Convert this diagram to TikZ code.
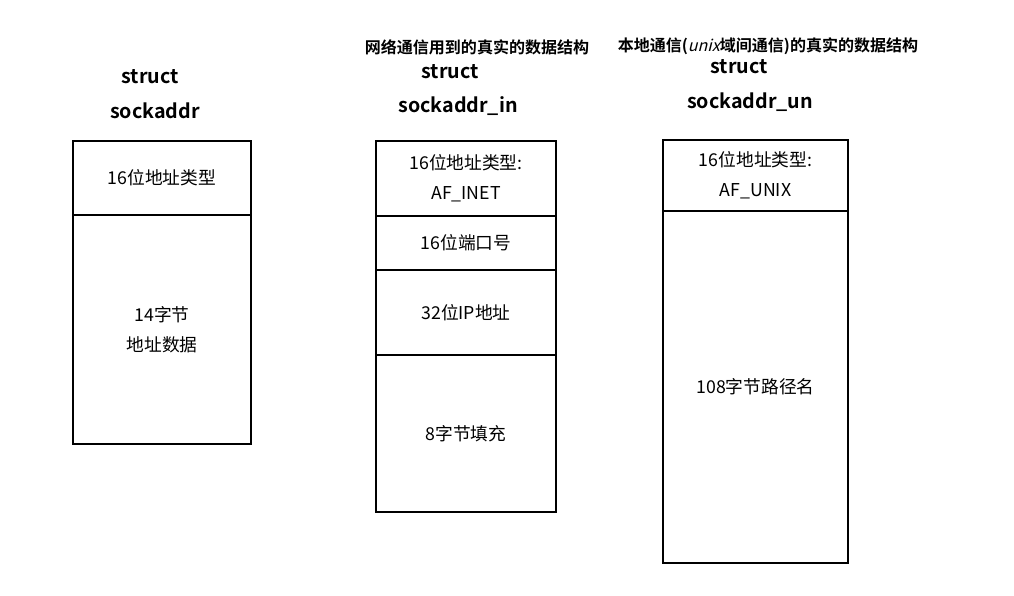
\documentclass[tikz,border=0pt]{standalone}
\usepackage{fontspec}
\setmainfont{Noto Sans CJK SC}[BoldFont={Noto Sans CJK SC Bold}, ItalicFont={Noto Sans CJK SC}, ItalicFeatures={FakeSlant=0.25}]
\usetikzlibrary{positioning}

\tikzset{
    cell/.style={draw, line width=1.3pt, outer sep=0pt, inner sep=0pt, font=\fontsize{12.6}{21.5}\selectfont, align=center},
    title/.style={font=\bfseries\fontsize{14}{16}\selectfont},
    note/.style={font=\bfseries\fontsize{11.4}{13}\selectfont}
}

\begin{document}
\begin{tikzpicture}[x=0.025cm, y=-0.025cm]
    \useasboundingbox (0, 0) rectangle (1014, 595);

    % struct sockaddr
    \node[title] (t1a) at (150, 77) {struct};
    \node[title] (t1b) at (155, 111) {sockaddr};
    \node[cell, anchor=north west, minimum width=4.45cm, minimum height=1.85cm] (a1) at (73, 141) {16位地址类型};
    \node[cell, below=0pt of a1, minimum width=4.45cm, minimum height=5.725cm] (a2) {14字节\\地址数据};

    % struct sockaddr_in
    \node[note] (n2) at (477, 47) {网络通信用到的真实的数据结构};
    \node[title] (t2a) at (450, 72) {struct};
    \node[title] (t2b) at (458, 106) {sockaddr\_in};
    \node[cell, anchor=north west, minimum width=4.5cm, minimum height=1.875cm] (b1) at (376, 141) {16位地址类型:\\AF\_INET};
    \node[cell, below=0pt of b1, minimum width=4.5cm, minimum height=1.35cm] (b2) {16位端口号};
    \node[cell, below=0pt of b2, minimum width=4.5cm, minimum height=2.125cm] (b3) {32位IP地址};
    \node[cell, below=0pt of b3, minimum width=4.5cm, minimum height=3.925cm] (b4) {8字节填充};

    % struct sockaddr_un
    \node[note] (n3) at (768, 46) {本地通信(\textit{\mdseries unix}域间通信)的真实的数据结构};
    \node[title] (t3a) at (739, 67) {struct};
    \node[title] (t3b) at (750, 102) {sockaddr\_un};
    \node[cell, anchor=north west, minimum width=4.625cm, minimum height=1.775cm] (c1) at (663, 140) {16位地址类型:\\AF\_UNIX};
    \node[cell, below=0pt of c1, minimum width=4.625cm, minimum height=8.8cm] (c2) {108字节路径名};
\end{tikzpicture}
\end{document}
